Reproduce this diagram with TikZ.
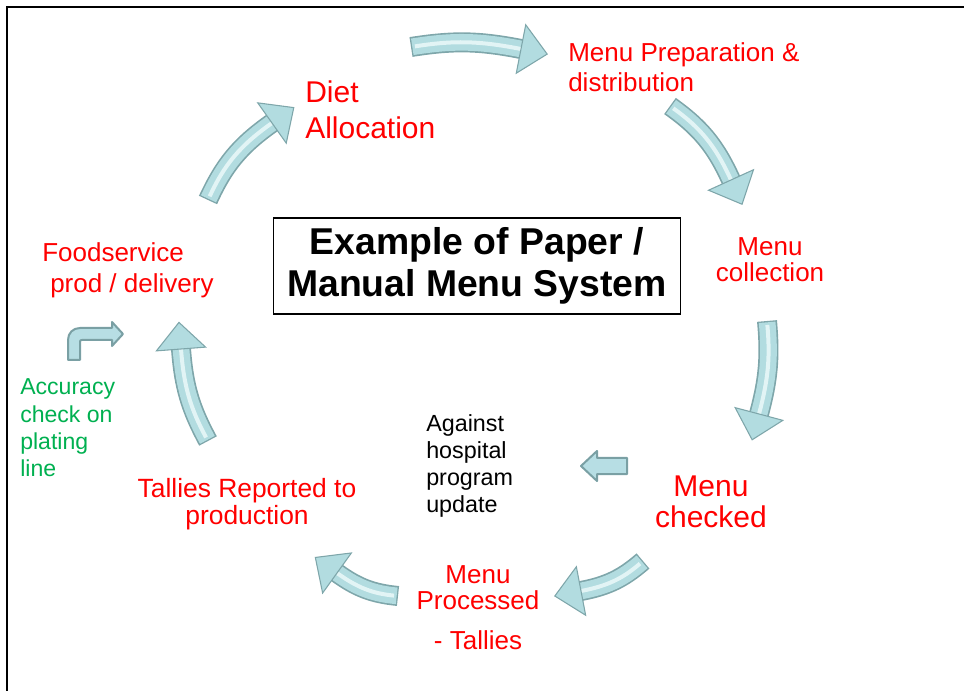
\documentclass[tikz,border=0pt]{standalone}
\usepackage{fontspec}
\setmainfont{Liberation Sans}
\usepackage{xcolor}
\usepackage{tikz}
\usetikzlibrary{shapes.geometric,positioning}
\definecolor{arrowteal}{RGB}{178, 220, 224}
\definecolor{arrowedge}{RGB}{126, 166, 170}
\definecolor{arrowshine}{RGB}{226, 244, 245}
\definecolor{flatteal}{RGB}{183, 222, 228}
\definecolor{flatedge}{RGB}{122, 160, 164}
\definecolor{checkgreen}{RGB}{0, 176, 80}

\begin{document}
\begin{tikzpicture}[x=0.75pt, y=-0.75pt,
    stagetext/.style={text=red, inner sep=0pt, align=center},
    notetext/.style={font=\fontsize{17.5}{20.25}\selectfont, inner sep=0pt, align=left},
    titlebox/.style={rectangle, draw=black, line width=1pt, minimum width=305pt, minimum height=72pt, font=\fontsize{28}{31.5}\selectfont\bfseries, align=center},
    cyclearrow/.style={draw=arrowedge, line width=15pt, postaction={draw=arrowteal, line width=12.5pt, shorten <=1pt}, postaction={draw=arrowshine, line width=3pt, shorten <=3pt}},
    arrowhead/.style={isosceles triangle, isosceles triangle stretches, shape border rotate=0, minimum width=37pt, minimum height=20pt, inner sep=0pt, outer sep=0pt, fill=arrowteal, draw=arrowedge, line width=0.8pt, anchor=west, sloped, allow upside down, pos=1},
    flatarrow/.style={fill=flatteal, draw=flatedge, line width=1.5pt, line join=round}
]
    \useasboundingbox (0,0) rectangle (964,691);
    \draw[line width=1.5pt] (7,691) -- (7,7) -- (964,7);

    % stages of the cycle
    \node[stagetext, align=left, anchor=west, font=\fontsize{22.5}{27}\selectfont] (diet) at (305,110) {Diet\\Allocation};
    \node[stagetext, align=left, anchor=west, font=\fontsize{19.5}{22.5}\selectfont] (prep) at (568,67) {Menu Preparation \&\\distribution};
    \node[stagetext, font=\fontsize{19.5}{19.5}\selectfont] (collect) at (770,260) {Menu\\collection};
    \node[stagetext, font=\fontsize{22.5}{23.25}\selectfont] (checked) at (711,502) {Menu\\checked};
    \node[stagetext, font=\fontsize{19.5}{19.5}\selectfont] (processed) at (478,608) {Menu\\Processed\\[10.5pt]- Tallies};
    \node[stagetext, font=\fontsize{19.8}{20.25}\selectfont] (tallies) at (247,504) {Tallies Reported to\\production};
    \node[stagetext, align=left, anchor=west, font=\fontsize{19.5}{23.25}\selectfont] (foodservice) at (42,270) {Foodservice\\\hspace*{6pt}prod / delivery};

    % notes
    \node[notetext, text=checkgreen, anchor=west, font=\fontsize{17.3}{20.5}\selectfont] (accuracy) at (20,428) {Accuracy\\check on\\plating\\line};
    \node[notetext, anchor=west] (against) at (426,466) {Against\\hospital\\program\\update};

    \node[titlebox] (title) at (477,266) {Example of Paper /\\Manual Menu System};

    % curved arrows round the cycle
    \coordinate (a1s) at (411,47);  \coordinate (a1e) at (521,49);
    \coordinate (a2s) at (670,106); \coordinate (a2e) at (731,180);
    \coordinate (a3s) at (767,321); \coordinate (a3e) at (759,414);
    \coordinate (a4s) at (643,561); \coordinate (a4e) at (581,591);
    \coordinate (a5s) at (398,596); \coordinate (a5e) at (337,573);
    \coordinate (a6s) at (208,441); \coordinate (a6e) at (181,349);
    \coordinate (a7s) at (208,200); \coordinate (a7e) at (272,123);

    \draw[cyclearrow] (a1s) to[bend left=10] node[arrowhead] {} (a1e);
    \draw[cyclearrow] (a2s) to[bend left=15] node[arrowhead] {} (a2e);
    \draw[cyclearrow] (a3s) to[bend left=10] node[arrowhead] {} (a3e);
    \draw[cyclearrow] (a4s) to[bend left=15] node[arrowhead] {} (a4e);
    \draw[cyclearrow] (a5s) to[bend left=15] node[arrowhead] {} (a5e);
    \draw[cyclearrow] (a6s) to[bend left=12] node[arrowhead] {} (a6e);
    \draw[cyclearrow] (a7s) to[bend left=15] node[arrowhead] {} (a7e);

    % small flat arrows
    \draw[flatarrow] (68,360) -- (68,340) .. controls (68,333) and (73,328) .. (80,328) -- (112,328) -- (112,322) -- (123,334) -- (112,346) -- (112,340) -- (82,340) .. controls (80.5,340) and (80,340.5) .. (80,342) -- (80,360) -- cycle;
    \draw[flatarrow] (627,458) -- (597,458) -- (597,451) -- (581,466) -- (597,481) -- (597,474) -- (627,474) -- cycle;
\end{tikzpicture}
\end{document}
